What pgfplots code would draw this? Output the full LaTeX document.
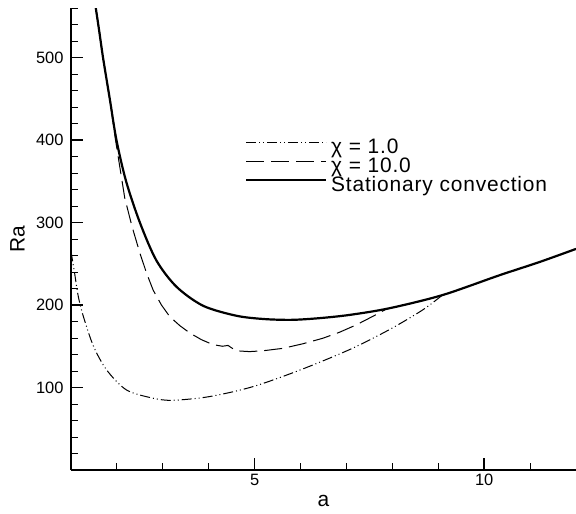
\documentclass[border=0pt]{standalone}
\usepackage{fontspec}
\setmainfont{Liberation Sans}
\newfontfamily\legfont[LetterSpace=4]{Liberation Sans}
\usepackage{pgfplots}
\pgfplotsset{compat=1.18}

\begin{document}
\begin{tikzpicture}
\begin{axis}[
    scale only axis,
    width=505bp, height=462bp,
    xmin=1, xmax=12,
    ymin=0, ymax=560,
    axis x line*=bottom,
    axis y line*=left,
    axis line style={line width=2bp},
    xtick={5,10},
    ytick={100,200,300,400,500},
    minor xtick={2,3,4,6,7,8,9,11,12},
    minor ytick={20,40,60,80,120,140,160,180,220,240,260,280,320,340,360,380,420,440,460,480,520,540,560},
    tick align=inside,
    major tick length=12bp,
    minor tick length=7bp,
    major tick style={line width=1.6bp, black},
    minor tick style={line width=1bp, black},
    /pgf/number format/assume math mode=true,
    tick label style={font=\fontsize{16.5}{18}\selectfont},
    yticklabel style={xshift=-4bp},
    xticklabel style={yshift=-1bp},
    xlabel={a},
    ylabel={Ra},
    label style={font=\fontsize{21}{24}\selectfont},
    xlabel style={at={(axis description cs:0.5,-0.080)}, anchor=base},
    ylabel style={at={(axis description cs:-0.092,0.5)}, anchor=base},
    legend cell align=left,
    legend image code/.code={\draw[#1] (0bp,6bp) -- (80bp,6bp);},
    legend style={draw=none, fill=none, at={(axis cs:4.72,404)}, anchor=north west,
        font=\legfont\fontsize{21}{21}\selectfont,
        nodes={text height=15bp, text depth=4bp, inner ysep=0bp, inner xsep=4bp},
        row sep=0bp},
]

% chi = 1.0
\addplot[black, line width=1bp, smooth, dash pattern=on 10bp off 3bp on 1bp off 3bp on 1bp off 3bp] coordinates {
    (1.0,265) (1.08,238) (1.16,210) (1.27,186) (1.49,150) (1.78,121) (2.21,97)
    (2.79,87) (3.22,84.5) (4.02,89) (4.96,101) (5.98,121) (7.07,146) (7.93,170)
    (8.66,194) (9.09,212)
};
\addlegendentry{χ = 1.0}

% chi = 10.0
\addplot[black, line width=1bp, dash pattern=on 18bp off 7bp] coordinates {
    (1.54,560) (1.62,530) (1.70,499) (1.85,448) (1.97,400) (2.07,365) (2.17,330)
    (2.33,295) (2.5,263) (2.65,238) (2.79,218) (2.97,200) (3.15,186) (3.37,175)
    (3.59,166) (3.84,158) (4.09,152) (4.3,150) (4.42,151) (4.5,148) (4.6,144.5)
    (4.89,143.5) (5.18,144.5) (5.62,147.5) (6.05,153) (6.48,159.6) (6.85,167)
    (7.21,175.8) (7.6,187) (7.9,196)
};
\addlegendentry{χ = 10.0}

% stationary convection
\addplot[black, line width=2.2bp, smooth] coordinates {
    (1.54,560) (1.62,530) (1.70,499) (1.85,448) (1.99,400) (2.2,350) (2.5,300)
    (2.86,254) (3.3,222) (3.88,199) (4.6,187) (5.2,183) (5.8,182) (6.4,184)
    (7.07,188) (7.93,196) (9.09,212) (10.33,236) (11.2,252) (12,268)
};
\addlegendentry{Stationary convection}

\end{axis}
\pgfresetboundingbox
\path[use as bounding box] (current axis.south west) ++(-71bp,-44bp) rectangle ++(576bp,514bp);
\end{tikzpicture}
\end{document}
